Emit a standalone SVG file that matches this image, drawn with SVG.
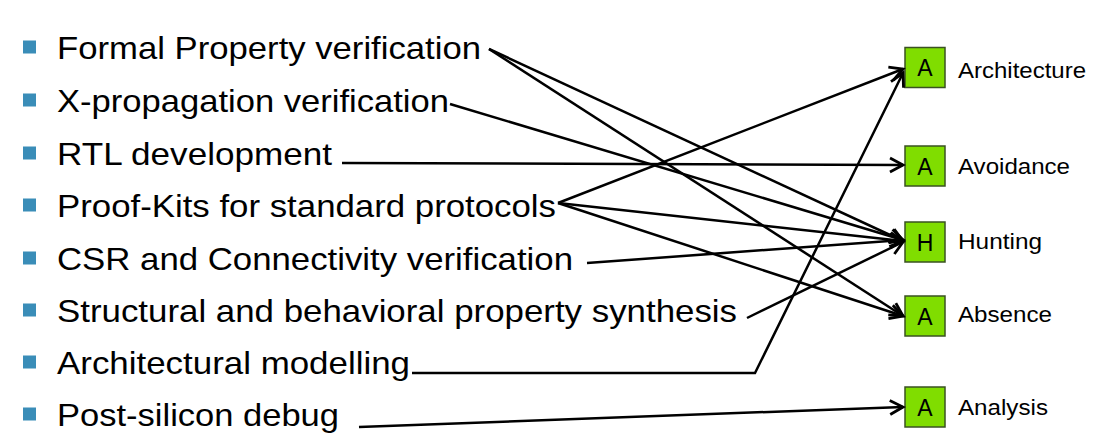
<svg xmlns="http://www.w3.org/2000/svg" width="1096" height="447" viewBox="0 0 1096 447">
<defs>
<style>
.item{font-family:"Liberation Sans",Arial,sans-serif;font-size:32px;fill:#000}
.bul{fill:#3A8DB8}
.box{fill:#80DD00;stroke:#3A5222;stroke-width:1.5}
.bl{font-family:"Liberation Sans",Arial,sans-serif;font-size:23px;fill:#000;text-anchor:middle}
.lab{font-family:"Liberation Sans",Arial,sans-serif;font-size:22px;fill:#000}
.con{fill:none;stroke:#000;stroke-width:2.5;marker-end:url(#arr)}
</style>
<marker id="arr" markerUnits="userSpaceOnUse" markerWidth="20" markerHeight="20" viewBox="-17 -10 20 20" refX="0" refY="0" orient="auto">
<path d="M-13,-7 L0,0 L-13,7" fill="none" stroke="#000" stroke-width="2.8"/>
</marker>
</defs>
<rect width="1096" height="447" fill="#fff"/>
<g id="items">
<g id="i1"><rect class="bul" x="23" y="40.5" width="13" height="13"/><text class="item" x="57" y="58.5" textLength="424" lengthAdjust="spacingAndGlyphs">Formal Property verification</text></g>
<g id="i2"><rect class="bul" x="23" y="93.5" width="13" height="13"/><text class="item" x="57" y="111.5" textLength="392" lengthAdjust="spacingAndGlyphs">X-propagation verification</text></g>
<g id="i3"><rect class="bul" x="23" y="146.5" width="13" height="13"/><text class="item" x="57" y="164.5" textLength="275" lengthAdjust="spacingAndGlyphs">RTL development</text></g>
<g id="i4"><rect class="bul" x="23" y="198.5" width="13" height="13"/><text class="item" x="57" y="216.5" textLength="499" lengthAdjust="spacingAndGlyphs">Proof-Kits for standard protocols</text></g>
<g id="i5"><rect class="bul" x="23" y="251.5" width="13" height="13"/><text class="item" x="57" y="269.5" textLength="516" lengthAdjust="spacingAndGlyphs">CSR and Connectivity verification</text></g>
<g id="i6"><rect class="bul" x="23" y="303.5" width="13" height="13"/><text class="item" x="57" y="321.5" textLength="680" lengthAdjust="spacingAndGlyphs">Structural and behavioral property synthesis</text></g>
<g id="i7"><rect class="bul" x="23" y="355.5" width="13" height="13"/><text class="item" x="57" y="373.5" textLength="353" lengthAdjust="spacingAndGlyphs">Architectural modelling</text></g>
<g id="i8"><rect class="bul" x="23" y="407.5" width="13" height="13"/><text class="item" x="57" y="425.5" textLength="282" lengthAdjust="spacingAndGlyphs">Post-silicon debug</text></g>
</g>
<g id="targets">
<g id="architecture"><rect class="box" x="905" y="47.5" width="40" height="40"/><text class="bl" x="925" y="76">A</text><text class="lab" x="958" y="78" textLength="128" lengthAdjust="spacingAndGlyphs">Architecture</text></g>
<g id="avoidance"><rect class="box" x="905" y="146" width="40" height="40"/><text class="bl" x="925" y="174.5">A</text><text class="lab" x="958" y="174" textLength="112" lengthAdjust="spacingAndGlyphs">Avoidance</text></g>
<g id="hunting"><rect class="box" x="905" y="222" width="40" height="40"/><text class="bl" x="925" y="250.5">H</text><text class="lab" x="958" y="249" textLength="84" lengthAdjust="spacingAndGlyphs">Hunting</text></g>
<g id="absence"><rect class="box" x="905" y="296" width="40" height="40"/><text class="bl" x="925" y="324.5">A</text><text class="lab" x="958" y="322" textLength="94" lengthAdjust="spacingAndGlyphs">Absence</text></g>
<g id="analysis"><rect class="box" x="905" y="387" width="40" height="40"/><text class="bl" x="925" y="415.5">A</text><text class="lab" x="958" y="415" textLength="90" lengthAdjust="spacingAndGlyphs">Analysis</text></g>
</g>
<g id="connectors">
<path class="con" d="M489,49 L903,241"/>
<path class="con" d="M489,49 L903,316"/>
<path class="con" d="M450,104 L903,240"/>
<path class="con" d="M342,163 L903,165"/>
<path class="con" d="M558,203 L903,69"/>
<path class="con" d="M558,203 L903,241"/>
<path class="con" d="M558,203 L903,316"/>
<path class="con" d="M587,263 L903,240"/>
<path class="con" d="M747,318 L903,242"/>
<path class="con" d="M412,373 L755,373 L903,73"/>
<path class="con" d="M359,427 L903,407"/>
</g>
</svg>
